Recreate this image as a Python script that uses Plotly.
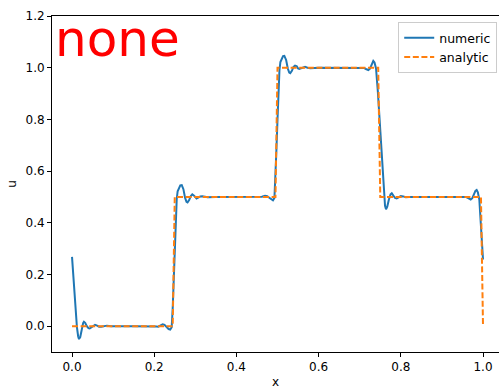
import plotly.graph_objects as go

# Numerical solution u(x), sampled more finely around the discontinuities
x_numeric = [
    0.000, 0.004, 0.008, 0.012, 0.015, 0.017, 0.020, 0.024, 0.027, 0.029,
    0.032, 0.036, 0.040, 0.043, 0.047, 0.052, 0.056, 0.061, 0.066, 0.071,
    0.078, 0.085, 0.095, 0.110, 0.130, 0.150, 0.170, 0.190, 0.200, 0.205,
    0.210, 0.215, 0.2206, 0.225, 0.230, 0.235, 0.239, 0.2425, 0.245, 0.2475,
    0.250, 0.2525, 0.2547, 0.257, 0.260, 0.2635, 0.267, 0.271, 0.275, 0.2785,
    0.281, 0.285, 0.289, 0.2927, 0.297, 0.300, 0.303, 0.307, 0.312, 0.317,
    0.323, 0.330, 0.350, 0.380, 0.410, 0.440, 0.455, 0.462, 0.4696, 0.475,
    0.480, 0.485, 0.489, 0.4925, 0.495, 0.4975, 0.500, 0.5025, 0.5047, 0.507,
    0.510, 0.5135, 0.5166, 0.521, 0.525, 0.5285, 0.531, 0.535, 0.539, 0.5426,
    0.547, 0.550, 0.553, 0.557, 0.562, 0.567, 0.573, 0.580, 0.600, 0.630,
    0.660, 0.690, 0.700, 0.705, 0.710, 0.715, 0.718, 0.721, 0.725, 0.729,
    0.733, 0.736, 0.7397, 0.744, 0.748, 0.752, 0.756, 0.7595, 0.7616, 0.764,
    0.767, 0.771, 0.775, 0.778, 0.782, 0.786, 0.790, 0.795, 0.800, 0.806,
    0.812, 0.820, 0.840, 0.870, 0.900, 0.930, 0.945, 0.952, 0.958, 0.964,
    0.970, 0.974, 0.978, 0.9815, 0.9846, 0.9875, 0.991, 0.995, 1.000,
]
u_numeric = [
    0.268, 0.170, 0.075, -0.005, -0.040, -0.050, -0.042, -0.005, 0.012, 0.017,
    0.013, 0.000, -0.008, -0.009, -0.004, 0.003, 0.005, 0.002, -0.002, -0.002,
    0.001, 0.002, 0.000, -0.001, 0.000, 0.000, 0.000, 0.000, 0.001, -0.001,
    -0.002, 0.002, 0.007, 0.005, -0.003, -0.011, -0.013, -0.004, 0.070, 0.190,
    0.300, 0.410, 0.490, 0.522, 0.537, 0.545, 0.546, 0.530, 0.497, 0.481,
    0.479, 0.488, 0.503, 0.510, 0.505, 0.497, 0.494, 0.497, 0.502, 0.503,
    0.500, 0.499, 0.500, 0.500, 0.500, 0.500, 0.499, 0.501, 0.5045, 0.503,
    0.497, 0.491, 0.487, 0.496, 0.570, 0.690, 0.800, 0.910, 0.990, 1.022,
    1.037, 1.045, 1.046, 1.030, 0.997, 0.981, 0.979, 0.988, 1.003, 1.008,
    1.005, 0.997, 0.995, 0.997, 1.002, 1.003, 1.000, 0.998, 1.000, 1.000,
    1.000, 1.000, 1.000, 1.001, 0.999, 0.995, 0.992, 0.991, 0.996, 1.014,
    1.026, 1.020, 0.997, 0.910, 0.815, 0.720, 0.610, 0.510, 0.466, 0.452,
    0.462, 0.490, 0.510, 0.514, 0.506, 0.496, 0.494, 0.499, 0.503, 0.502,
    0.499, 0.500, 0.500, 0.500, 0.500, 0.500, 0.500, 0.501, 0.500, 0.495,
    0.490, 0.495, 0.510, 0.523, 0.527, 0.518, 0.490, 0.390, 0.258,
]

# Exact solution: piecewise-constant profile on the sampling grid
x_analytic = [0.0, 0.245, 0.250, 0.495, 0.500, 0.745, 0.750, 0.995, 1.000]
u_analytic = [0.0, 0.0, 0.5, 0.5, 1.0, 1.0, 0.5, 0.5, 0.0]

x_ticks = [0.0, 0.2, 0.4, 0.6, 0.8, 1.0]
y_ticks = [0.0, 0.2, 0.4, 0.6, 0.8, 1.0, 1.2]

filter_name = "none"

fig = go.Figure()
fig.add_trace(go.Scatter(
    x=x_numeric, y=u_numeric, mode="lines", name="numeric",
    line=dict(color="#1f77b4", width=2),
))
fig.add_trace(go.Scatter(
    x=x_analytic, y=u_analytic, mode="lines", name="analytic",
    line=dict(color="#ff7f0e", width=2, dash="6px,2.6px"),
))

font = dict(family="DejaVu Sans", size=12, color="black")
axis_common = dict(
    showgrid=False, zeroline=False, showline=True, linecolor="black",
    linewidth=1, ticks="outside", ticklen=4, tickwidth=1, tickcolor="black",
    tickfont=font, tickformat=".1f",
)

fig.update_layout(
    width=499, height=390,
    margin=dict(l=52, r=0, t=16, b=38),
    paper_bgcolor="white", plot_bgcolor="white",
    font=font,
    xaxis=dict(range=[-0.0487, 1.0389], tickvals=x_ticks, mirror=True,
               title=dict(text="x", font=font, standoff=4), **axis_common),
    yaxis=dict(range=[-0.1, 1.2], tickvals=y_ticks,
               title=dict(text="u", font=font, standoff=6), **axis_common),
    legend=dict(x=0.996, y=0.982, xanchor="right", yanchor="top",
                bgcolor="rgba(255,255,255,0.8)", bordercolor="#cccccc",
                borderwidth=1, font=dict(family="DejaVu Sans", size=12.5,
                                         color="black"),
                tracegroupgap=0),
    showlegend=True,
    annotations=[dict(
        text=filter_name, xref="paper", yref="paper", x=0.003, y=1.025,
        xanchor="left", yanchor="top", showarrow=False,
        font=dict(family="DejaVu Sans", size=50, color="red"),
    )],
)

fig.write_html("out.html")
